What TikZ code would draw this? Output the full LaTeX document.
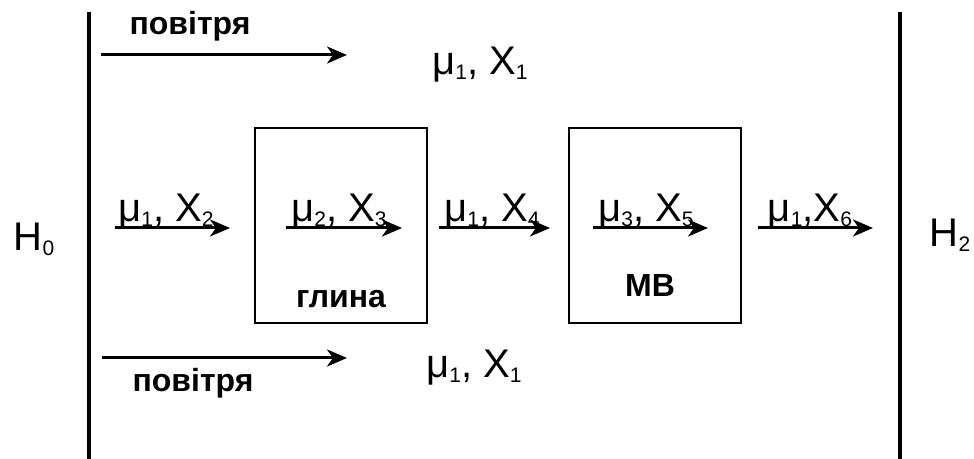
\documentclass[tikz,border=0pt]{standalone}
\usepackage{fontspec}
\setmainfont{Liberation Sans}
\usetikzlibrary{arrows.meta}

% lowered index, as in mu_1, X_2
\newcommand{\ix}[1]{\raisebox{-2.5pt}{\fontsize{10.5}{12}\selectfont #1}}

\tikzset{
  flow/.style={line width=1.5pt,-{Stealth[length=10pt,width=8.5pt,inset=3pt]}},
  wall/.style={line width=2pt},
  unit/.style={draw,line width=1pt,minimum width=86pt,minimum height=97.5pt,inner sep=0pt},
  lbl/.style={font=\fontsize{20}{24}\selectfont,anchor=base,inner sep=0pt},
  word/.style={font=\fontsize{16}{19}\selectfont\bfseries,anchor=base,inner sep=0pt}
}

\begin{document}
\begin{tikzpicture}[x=0.5pt,y=-0.5pt]
\useasboundingbox (0,0) rectangle (974,459);

% walls
\coordinate (w0t) at (89,12);
\coordinate (w0b) at (89,459);
\coordinate (w2t) at (900,12);
\coordinate (w2b) at (900,459);
\draw[wall] (w0t) -- (w0b);
\draw[wall] (w2t) -- (w2b);
\node[lbl] (h0) at (34,251) {H\ix{0}};
\node[lbl] (h2) at (950,247) {H\ix{2}};

% air above
\coordinate (a1s) at (101,55);
\coordinate (a1e) at (347,55);
\draw[flow] (a1s) -- (a1e);
\node[word] (air1) at (190,35) {повітря};
\node[lbl] (top) at (480,75) {μ\ix{1}, X\ix{1}};

% units
\node[unit] (clay) at (341,225.5) {};
\node[unit] (mv) at (654.5,225.5) {};
\node[word] (clayname) at (341,308) {глина};
\node[word] (mvname) at (650,297) {МВ};

% main stream
\coordinate (s1) at (115,228);  \coordinate (e1) at (230,228);
\coordinate (s2) at (286,228);  \coordinate (e2) at (402,228);
\coordinate (s3) at (439,228);  \coordinate (e3) at (550,228);
\coordinate (s4) at (593,228);  \coordinate (e4) at (708,228);
\coordinate (s5) at (758,228);  \coordinate (e5) at (873,228);
\draw[flow] (s1) -- (e1);
\draw[flow] (s2) -- (e2);
\draw[flow] (s3) -- (e3);
\draw[flow] (s4) -- (e4);
\draw[flow] (s5) -- (e5);
\node[lbl] (f1) at (166,222) {μ\ix{1}, X\ix{2}};
\node[lbl] (f2) at (339,222) {μ\ix{2}, X\ix{3}};
\node[lbl] (f3) at (492,222) {μ\ix{1}, X\ix{4}};
\node[lbl] (f4) at (646,222) {μ\ix{3}, X\ix{5}};
\node[lbl] (f5) at (810,222) {μ\ix{1},X\ix{6}};

% air below
\coordinate (a2s) at (102,358);
\coordinate (a2e) at (347,358);
\draw[flow] (a2s) -- (a2e);
\node[word] (air2) at (193,392) {повітря};
\node[lbl] (bot) at (474,378) {μ\ix{1}, X\ix{1}};
\end{tikzpicture}
\end{document}
